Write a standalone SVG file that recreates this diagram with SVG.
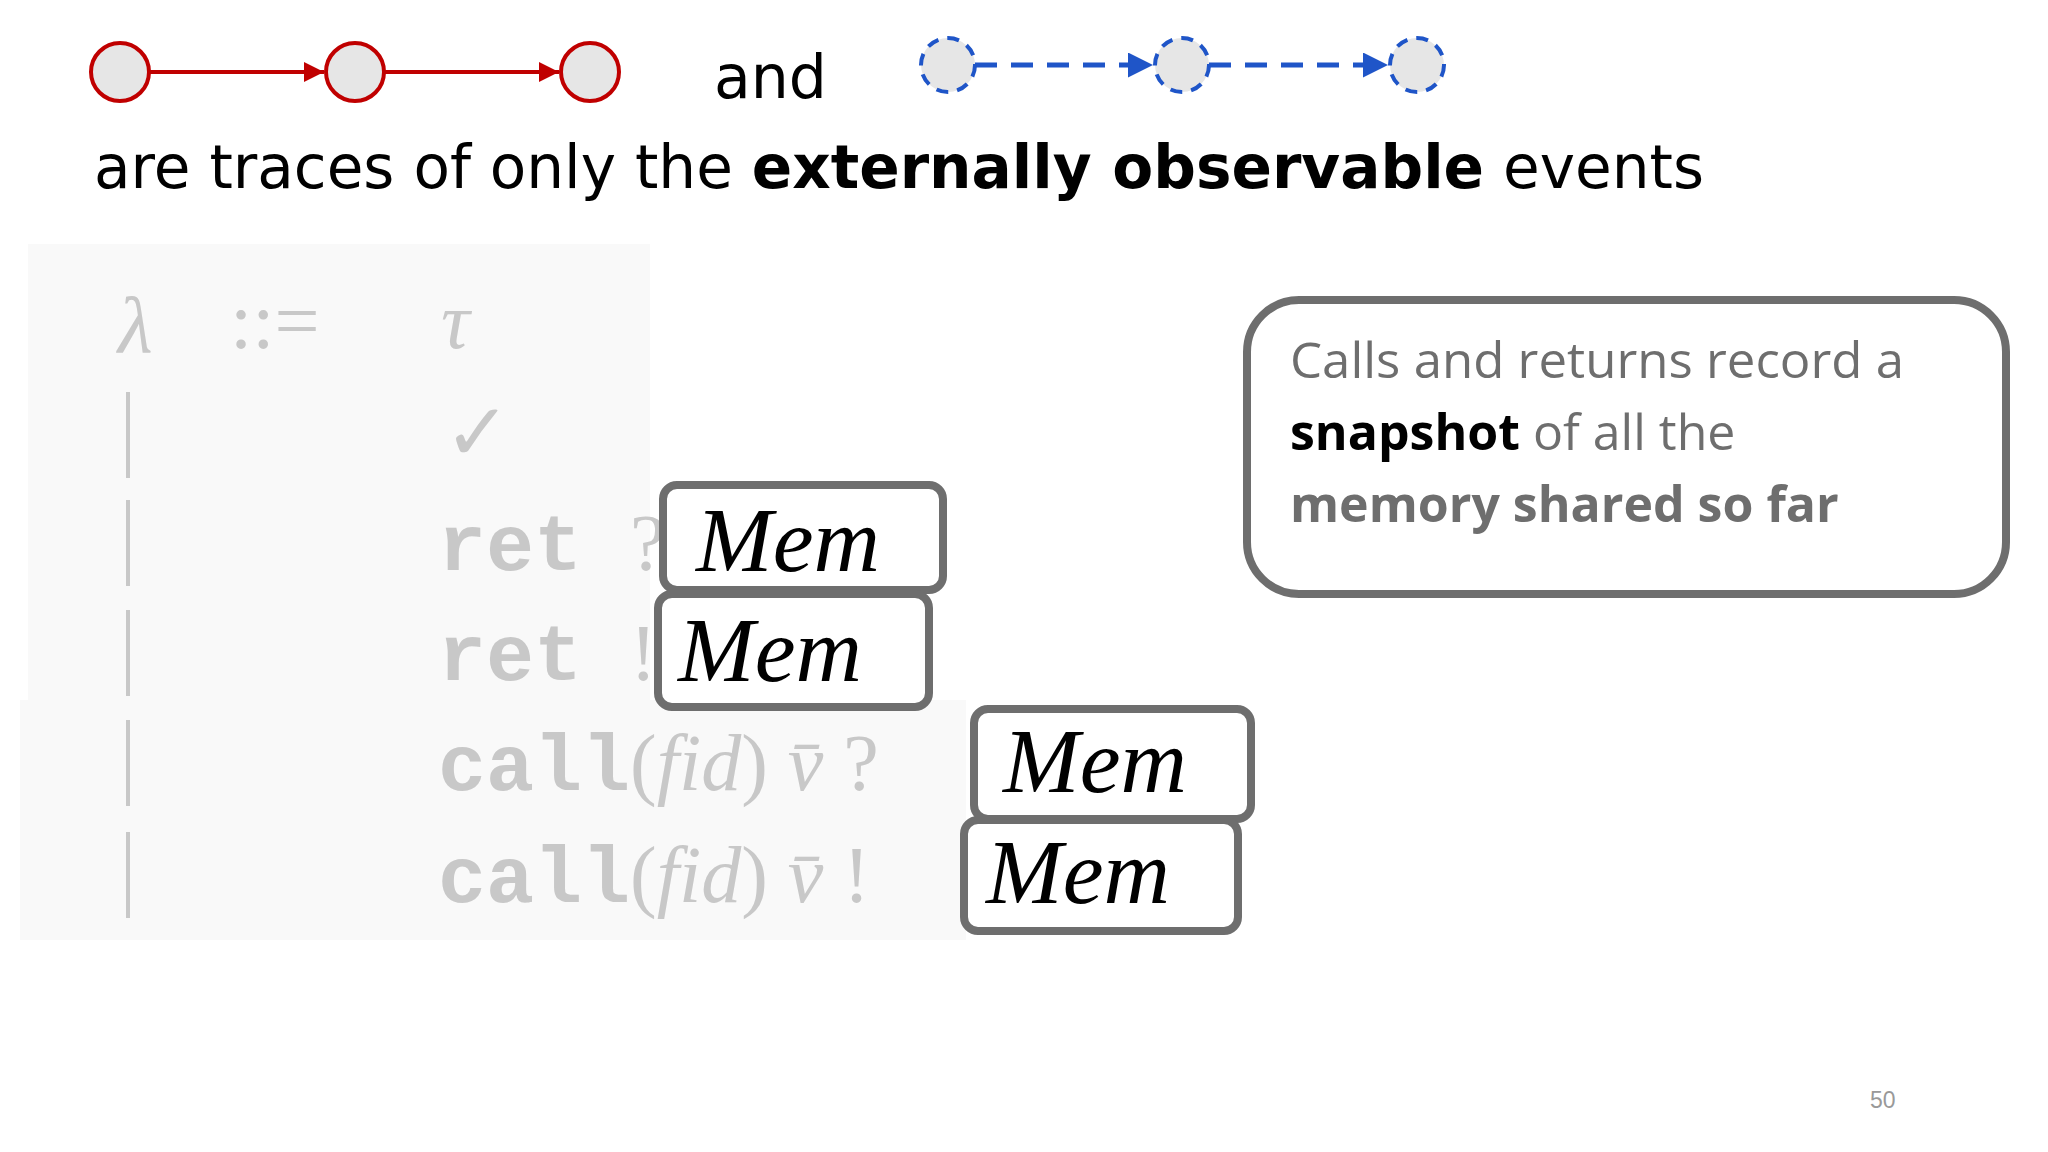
<svg xmlns="http://www.w3.org/2000/svg" width="2048" height="1152" viewBox="0 0 2048 1152">
<defs>
<style>
.rc{fill:#e6e6e6;stroke:#c00000;stroke-width:4}
.bc{fill:#e6e6e6;stroke:#1f55c8;stroke-width:4;stroke-dasharray:12 9}
.hd{font-family:"DejaVu Sans",sans-serif;font-size:60px;fill:#000}
.g{fill:#c8c8c8;font-family:"Liberation Serif",serif;font-size:80px}
.m{font-family:"Liberation Mono",monospace;font-size:80px;fill:#c8c8c8;font-weight:bold}
.mb{fill:#fff;stroke:#6e6e6e;stroke-width:8}
.mt{font-family:"Liberation Serif",serif;font-style:italic;font-size:92px;fill:#000}
.ct{font-family:"Open Sans",sans-serif;font-size:50px;fill:#6e6e6e}
</style>
<marker id="ar" viewBox="0 0 10 10" refX="10" refY="5" markerWidth="5" markerHeight="5" orient="auto"><path d="M0,0L10,5L0,10z" fill="#c00000"/></marker>
<marker id="ab" viewBox="0 0 10 10" refX="10" refY="5" markerWidth="5" markerHeight="5" orient="auto"><path d="M0,0L10,5L0,10z" fill="#1f55c8"/></marker>
</defs>
<rect width="2048" height="1152" fill="#fff"/>
<rect x="28" y="244" width="622" height="696" fill="#f9f9f9"/>
<rect x="20" y="700" width="946" height="240" fill="#f9f9f9"/>
<g id="connectors">
<line x1="149" y1="72" x2="324" y2="72" stroke="#c00000" stroke-width="4" marker-end="url(#ar)"/>
<line x1="384" y1="72" x2="559" y2="72" stroke="#c00000" stroke-width="4" marker-end="url(#ar)"/>
<line x1="975" y1="65" x2="1153" y2="65" stroke="#1f55c8" stroke-width="5" stroke-dasharray="22 14" marker-end="url(#ab)"/>
<line x1="1209" y1="65" x2="1388" y2="65" stroke="#1f55c8" stroke-width="5" stroke-dasharray="22 14" marker-end="url(#ab)"/>
</g>
<g id="red"><circle class="rc" cx="120" cy="72" r="29"/><circle class="rc" cx="355" cy="72" r="29"/><circle class="rc" cx="590" cy="72" r="29"/></g>
<g id="blue"><circle class="bc" cx="948" cy="65" r="27"/><circle class="bc" cx="1182" cy="65" r="27"/><circle class="bc" cx="1417" cy="65" r="27"/></g>
<text class="hd" x="714" y="98">and</text>
<text class="hd" x="94" y="188" textLength="1610" lengthAdjust="spacingAndGlyphs">are traces of only the <tspan font-weight="bold">externally observable</tspan> events</text>
<g id="grammar">
<text class="g" x="118" y="352" font-style="italic">λ</text>
<text class="g" x="230" y="348">::=</text>
<text class="g" x="441" y="348" font-style="italic">τ</text>
<text class="g" x="444" y="460">✓</text>
<g fill="#c8c8c8"><rect x="126" y="392" width="4" height="86"/><rect x="126" y="500" width="4" height="86"/><rect x="126" y="610" width="4" height="86"/><rect x="126" y="720" width="4" height="86"/><rect x="126" y="832" width="4" height="86"/></g>
<text class="m" x="438" y="570">ret <tspan font-family="Liberation Serif" font-weight="normal">?</tspan></text>
<text class="m" x="438" y="680">ret <tspan font-family="Liberation Serif" font-weight="normal">!</tspan></text>
<text class="m" x="438" y="790">call<tspan font-family="Liberation Serif" font-weight="normal">(<tspan font-style="italic">fid</tspan>) <tspan font-style="italic">v̄</tspan> ?</tspan></text>
<text class="m" x="438" y="902">call<tspan font-family="Liberation Serif" font-weight="normal">(<tspan font-style="italic">fid</tspan>) <tspan font-style="italic">v̄</tspan> !</tspan></text>
</g>
<g id="mem1"><rect class="mb" x="663" y="485" width="280" height="105" rx="14"/><text class="mt" x="696" y="571">Mem</text></g>
<g id="mem2"><rect class="mb" x="658" y="594" width="271" height="113" rx="14"/><text class="mt" x="678" y="681">Mem</text></g>
<g id="mem3"><rect class="mb" x="974" y="709" width="277" height="110" rx="14"/><text class="mt" x="1003" y="792">Mem</text></g>
<g id="mem4"><rect class="mb" x="964" y="820" width="274" height="111" rx="14"/><text class="mt" x="986" y="903">Mem</text></g>
<g id="callout">
<rect class="mb" x="1247" y="300" width="759" height="294" rx="52"/>
<text class="ct" x="1290" y="378" textLength="614" lengthAdjust="spacingAndGlyphs">Calls and returns record a</text>
<text class="ct" x="1290" y="450"><tspan font-weight="bold" fill="#000">snapshot</tspan> of all the</text>
<text class="ct" x="1290" y="522" font-weight="bold" fill="#000">memory shared so far</text>
</g>
<text x="1870" y="1108" font-family="Liberation Sans,sans-serif" font-size="23" fill="#999">50</text>
</svg>
